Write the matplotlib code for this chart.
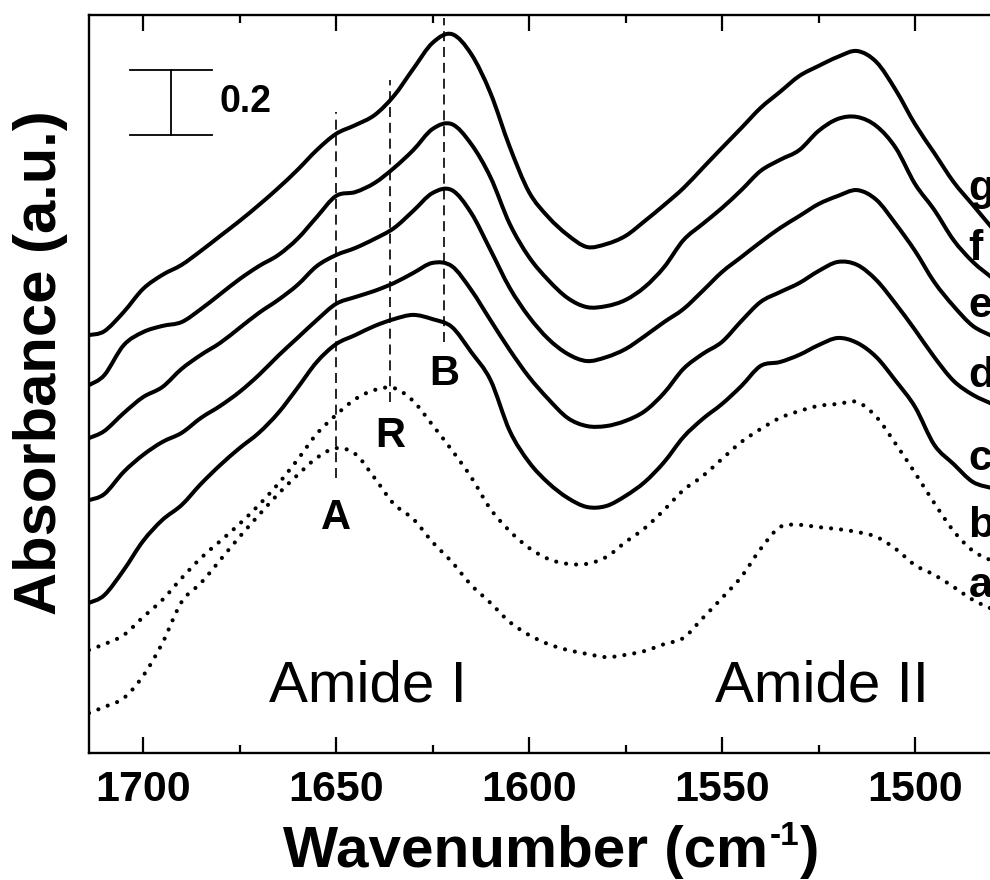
import numpy as np
import matplotlib
matplotlib.use("Agg")
import matplotlib.pyplot as plt
import matplotlib.transforms as mtransforms
from matplotlib.path import Path
from matplotlib.patches import PathPatch
from matplotlib.ticker import MultipleLocator

# wavenumber grid (cm-1) shared by all spectra
wn = [1714] + list(range(1710, 1479, -5))

# stacked absorbance spectra (a.u., offsets included)
abs_g = [1.286, 1.298, 1.357, 1.428, 1.471, 1.502, 1.545, 1.591, 1.637, 1.686, 1.738, 1.794,
         1.855, 1.905, 1.932, 1.963, 2.022, 2.105, 2.185, 2.212, 2.151, 2.031, 1.865, 1.726,
         1.649, 1.594, 1.557, 1.566, 1.591, 1.637, 1.686, 1.738, 1.800, 1.862, 1.923, 1.985,
         2.034, 2.083, 2.114, 2.142, 2.160, 2.126, 2.040, 1.935, 1.846, 1.757, 1.686, 1.615]
abs_f = [1.132, 1.163, 1.255, 1.295, 1.314, 1.326, 1.366, 1.412, 1.458, 1.498, 1.532, 1.582,
         1.649, 1.714, 1.726, 1.754, 1.800, 1.855, 1.920, 1.935, 1.874, 1.772, 1.628, 1.526,
         1.455, 1.400, 1.372, 1.375, 1.394, 1.434, 1.495, 1.578, 1.628, 1.677, 1.732, 1.791,
         1.825, 1.855, 1.914, 1.951, 1.957, 1.929, 1.862, 1.751, 1.671, 1.578, 1.511, 1.462]
abs_e = [0.969, 0.991, 1.046, 1.095, 1.126, 1.182, 1.225, 1.262, 1.308, 1.354, 1.394, 1.440,
         1.498, 1.532, 1.554, 1.582, 1.615, 1.668, 1.723, 1.732, 1.662, 1.548, 1.431, 1.342,
         1.274, 1.228, 1.206, 1.218, 1.243, 1.283, 1.326, 1.366, 1.422, 1.480, 1.526, 1.572,
         1.615, 1.652, 1.689, 1.714, 1.732, 1.702, 1.628, 1.545, 1.449, 1.375, 1.314, 1.283]
abs_d = [0.778, 0.797, 0.865, 0.917, 0.957, 0.985, 1.031, 1.068, 1.111, 1.163, 1.222, 1.277,
         1.332, 1.382, 1.403, 1.422, 1.446, 1.477, 1.508, 1.498, 1.425, 1.332, 1.240, 1.157,
         1.089, 1.031, 1.006, 1.006, 1.022, 1.052, 1.108, 1.182, 1.228, 1.265, 1.329, 1.388,
         1.418, 1.446, 1.483, 1.511, 1.502, 1.455, 1.382, 1.302, 1.218, 1.145, 1.102, 1.074]
abs_c = [0.462, 0.486, 0.563, 0.652, 0.717, 0.763, 0.828, 0.886, 0.938, 0.985, 1.046, 1.123,
         1.203, 1.258, 1.286, 1.314, 1.335, 1.348, 1.335, 1.311, 1.234, 1.148, 0.991, 0.895,
         0.831, 0.785, 0.757, 0.760, 0.791, 0.834, 0.895, 0.972, 1.028, 1.074, 1.129, 1.191,
         1.203, 1.225, 1.255, 1.277, 1.262, 1.218, 1.145, 1.065, 0.948, 0.889, 0.834, 0.815]
abs_b = [0.317, 0.335, 0.363, 0.418, 0.471, 0.538, 0.600, 0.652, 0.705, 0.763, 0.828, 0.902,
         0.982, 1.040, 1.089, 1.117, 1.123, 1.083, 1.009, 0.932, 0.849, 0.751, 0.683, 0.631,
         0.597, 0.582, 0.582, 0.603, 0.649, 0.692, 0.748, 0.809, 0.852, 0.905, 0.957, 0.997,
         1.031, 1.052, 1.068, 1.074, 1.080, 1.034, 0.951, 0.862, 0.769, 0.683, 0.622, 0.591]
abs_a = [0.123, 0.142, 0.169, 0.237, 0.338, 0.465, 0.523, 0.594, 0.665, 0.732, 0.797, 0.855,
         0.908, 0.938, 0.920, 0.846, 0.766, 0.720, 0.649, 0.588, 0.517, 0.462, 0.403, 0.363,
         0.335, 0.317, 0.305, 0.295, 0.302, 0.314, 0.335, 0.354, 0.415, 0.477, 0.542, 0.628,
         0.695, 0.702, 0.695, 0.689, 0.680, 0.665, 0.628, 0.578, 0.548, 0.511, 0.471, 0.443]

spectra = {"a": abs_a, "b": abs_b, "c": abs_c, "d": abs_d, "e": abs_e, "f": abs_f, "g": abs_g}
dotted = ["a", "b"]
# baseline of each curve's letter at the right edge
label_y = {"g": 1.702, "f": 1.517, "e": 1.342, "d": 1.126, "c": 0.871, "b": 0.665, "a": 0.480}

# band positions (cm-1) and extent of the dashed guide lines
bands = ["A", "R", "B"]
band_wn = [1650, 1636, 1622]
band_top = [1.972, 2.071, 2.262]
band_bottom = [0.846, 1.080, 1.265]
band_label_y = [0.723, 0.975, 1.166]

scale_bar = 0.2


def smooth_path(x, y):
    # cubic Bezier through the read points, so the library draws a smooth trace
    x = np.asarray(x, float)
    y = np.asarray(y, float)
    n = len(x)
    verts = [(x[0], y[0])]
    codes = [Path.MOVETO]
    for i in range(n - 1):
        p0 = max(i - 1, 0)
        p3 = min(i + 2, n - 1)
        c1 = (x[i] + (x[i + 1] - x[p0]) / 6, y[i] + (y[i + 1] - y[p0]) / 6)
        c2 = (x[i + 1] - (x[p3] - x[i]) / 6, y[i + 1] - (y[p3] - y[i]) / 6)
        verts += [c1, c2, (x[i + 1], y[i + 1])]
        codes += [Path.CURVE4] * 3
    return Path(verts, codes)


plt.rcParams["font.family"] = ["Liberation Sans", "DejaVu Sans"]

fig = plt.figure(figsize=(9.9, 8.8), dpi=100)
ax = fig.add_axes([89 / 990, 127 / 880, 922.5 / 990, 738 / 880])

for name, vals in spectra.items():
    if name in dotted:
        patch = PathPatch(smooth_path(wn, vals), fill=False, edgecolor="black", lw=3.0,
                          linestyle=(0, (0.01, 2.4)), capstyle="round")
    else:
        patch = PathPatch(smooth_path(wn, vals), fill=False, edgecolor="black", lw=2.9,
                          joinstyle="round", capstyle="butt")
    ax.add_patch(patch)
    ax.text(1486.1, label_y[name], name, fontsize=31, fontweight="bold",
            ha="left", va="baseline")

for lab, x, y0, y1, ly in zip(bands, band_wn, band_bottom, band_top, band_label_y):
    ax.plot([x, x], [y0, y1], color="black", lw=1.2, linestyle=(0, (6, 3.5)))
    ax.text(x, ly, lab, fontsize=30, fontweight="bold", ha="center", va="center")

# scale bar
trans = mtransforms.blended_transform_factory(ax.transAxes, ax.transData)
top = 2.102
ax.plot([0.0444, 0.1333], [top, top], color="black", lw=1.3, transform=trans)
ax.plot([0.0444, 0.1333], [top - scale_bar, top - scale_bar], color="black", lw=1.3, transform=trans)
ax.plot([0.0889, 0.0889], [top, top - scale_bar], color="black", lw=1.3, transform=trans)
ax.text(0.142, top - scale_bar / 2, f"{scale_bar}", fontsize=27, fontweight="bold",
        ha="left", va="center", transform=trans)

ax.text(1641.7, 0.206, "Amide I", fontsize=42, ha="center", va="center")
ax.text(1524, 0.206, "Amide II", fontsize=42, ha="center", va="center")

ax.set_xlim(1714, 1475)
ax.set_ylim(0, 2.2708)
ax.xaxis.set_major_locator(MultipleLocator(50))
ax.xaxis.set_minor_locator(MultipleLocator(25))
ax.tick_params(axis="x", which="both", direction="in", top=True, bottom=True,
               width=1.6, labelsize=31, pad=12)
ax.tick_params(axis="x", which="major", length=11.5)
ax.tick_params(axis="x", which="minor", length=5.8)
for lbl in ax.get_xticklabels():
    lbl.set_fontweight("bold")
ax.set_yticks([])
for sp in ax.spines.values():
    sp.set_linewidth(1.7)

# x label built from pieces so the superscript keeps a plain hyphen
xl = fig.text(283 / 990, 1 - 867 / 880, "Wavenumber (cm", fontsize=42,
              fontweight="bold", ha="left", va="baseline")
sup = ax.annotate("-1", xy=(1.0, 1.0), xycoords=xl, xytext=(1, 3), textcoords="offset points",
                  fontsize=24, fontweight="bold", ha="left", va="top", annotation_clip=False)
ax.annotate(")", xy=(1.0, 0.0), xycoords=(sup, xl), xytext=(1, 0), textcoords="offset points",
            fontsize=42, fontweight="bold", ha="left", va="bottom", annotation_clip=False)

fig.text(41 / 990, 1 - 363 / 880, "Absorbance (a.u.)", fontsize=43, fontweight="bold",
         ha="center", va="center", rotation=90)

fig.savefig("out.png", dpi=100)
